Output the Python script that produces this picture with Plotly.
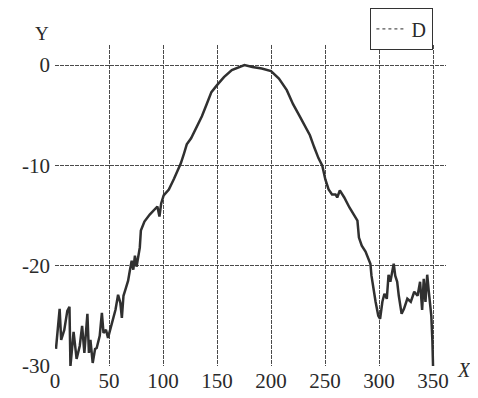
import plotly.graph_objects as go

# Data
x_vals = [0.9, 4.3, 5.7, 8.6, 11.4, 13.4, 14.3, 17.2, 20.0, 22.9, 25.1, 27.2, 30.0, 31.4, 32.8,
          34.9, 37.1, 38.6, 41.4, 43.4, 44.9, 47.2, 49.1, 50.5, 53.0, 56.0, 58.4, 60.5, 61.9,
          63.4, 65.4, 67.7, 69.1, 71.0, 72.5, 74.0, 75.5, 77.0, 78.5, 79.5, 82.8, 87.7, 92.5,
          94.8, 96.7, 98.3, 100.6, 105.4, 110.3, 113.5, 116.5, 119.5, 122.0, 126.0, 130.3,
          136.0, 140.4, 144.8, 150.0, 156.4, 163.7, 171.0, 175.4, 182.7, 191.4, 200.0, 207.3,
          214.6, 220.4, 226.0, 231.0, 236.0, 240.0, 244.0, 247.4, 250.3, 253.3, 256.5, 259.7,
          261.3, 263.7, 267.8, 272.6, 277.5, 280.0, 281.4, 284.0, 287.5, 290.4, 292.0, 293.0,
          294.6, 296.8, 299.3, 301.0, 303.1, 305.0, 307.2, 308.8, 310.5, 312.0, 313.6, 315.0,
          316.8, 318.3, 320.9, 323.1, 326.2, 329.4, 332.6, 335.7, 338.0, 339.9, 341.4, 343.0,
          344.6, 346.1, 347.5, 348.4, 349.4, 350.0]
y_vals = [-28.3, -24.3, -27.4, -26.4, -24.5, -24.1, -30.0, -26.6, -29.3, -28.0, -26.0, -28.7,
          -24.8, -28.7, -27.4, -29.7, -28.3, -28.2, -27.0, -24.7, -26.7, -26.4, -27.2, -26.6,
          -25.5, -24.4, -22.9, -23.7, -25.2, -23.0, -22.3, -21.5, -20.6, -19.5, -20.4, -19.0,
          -20.1, -19.0, -18.2, -16.5, -15.6, -14.9, -14.4, -14.1, -15.1, -13.8, -13.0, -12.4,
          -11.3, -10.6, -9.8, -8.8, -7.9, -7.3, -6.4, -5.1, -3.9, -2.7, -2.0, -1.2, -0.5, -0.2,
          0.0, -0.2, -0.35, -0.6, -1.35, -2.5, -3.9, -5.0, -6.0, -7.0, -8.2, -9.3, -10.0, -11.4,
          -12.4, -12.9, -12.9, -13.2, -12.5, -13.2, -14.2, -15.0, -15.5, -17.2, -18.0, -18.6,
          -19.3, -19.8, -21.0, -22.3, -23.6, -25.0, -25.3, -23.6, -22.8, -23.3, -20.9, -21.6,
          -20.6, -19.8, -21.0, -21.6, -23.0, -24.8, -24.3, -23.3, -23.6, -22.6, -23.0, -21.6,
          -24.4, -21.3, -23.6, -20.9, -22.6, -24.3, -25.0, -27.5, -30.0]

x_ticks = [0, 50, 100, 150, 200, 250, 300, 350]
y_ticks = [0, -10, -20, -30]
series_name = "D"

FONT = "Liberation Serif, Times New Roman, serif"
GRID = "#4a4a4a"

fig = go.Figure()
fig.add_trace(go.Scatter(x=x_vals, y=y_vals, mode="lines",
                         line=dict(color="#303030", width=2.5),
                         showlegend=False, hoverinfo="skip"))
# legend entry (dotted sample as in the reference)
fig.add_trace(go.Scatter(x=[None], y=[None], mode="lines", name=series_name,
                         line=dict(color="#555555", width=1.2, dash="dot")))

fig.update_layout(
    width=478, height=398,
    margin=dict(l=47, r=40, t=37, b=40, autoexpand=False),
    paper_bgcolor="white", plot_bgcolor="white",
    font=dict(family=FONT, size=21, color="#2a2a2a"),
    showlegend=True,
    legend=dict(x=0.967, y=1.115, xanchor="right", yanchor="top",
                bordercolor="#333333", borderwidth=1.3, bgcolor="white",
                font=dict(size=20), itemwidth=30,
                tracegroupgap=0),
    xaxis=dict(range=[0, 362], tickvals=x_ticks, ticktext=[str(v) for v in x_ticks],
               showgrid=True, gridcolor=GRID, gridwidth=1.2, griddash="4px,1px",
               zeroline=False, showline=False, ticks="", ticklabelstandoff=0,
               tickfont=dict(size=21)),
    yaxis=dict(range=[-30, 2], tickvals=y_ticks, ticktext=["0", "-10", "-20", "-30"],
               showgrid=True, gridcolor=GRID, gridwidth=1.2, griddash="4px,1px",
               zeroline=False, showline=False, ticks="", ticklabelstandoff=4,
               tickfont=dict(size=21)),
    annotations=[
        dict(text="Y", xref="paper", yref="paper", x=-0.033, y=1.037,
             xanchor="center", yanchor="middle",
             showarrow=False, font=dict(size=19, family=FONT)),
        dict(text="<i>X</i>", xref="paper", yref="paper", x=1.047, y=-0.012,
             xanchor="center", yanchor="middle",
             showarrow=False, font=dict(size=20, family=FONT)),
    ],
)

fig.write_html("out.html")
